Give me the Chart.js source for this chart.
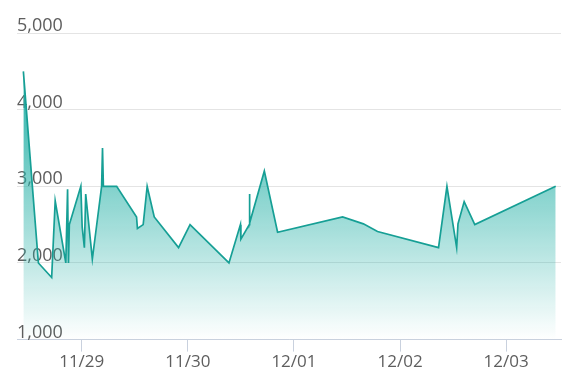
<!DOCTYPE html>
<html>
<head>
<meta charset="utf-8">
<script src="https://cdn.jsdelivr.net/npm/chart.js@4/dist/chart.umd.min.js"></script>
<style>
  html, body { margin: 0; padding: 0; background: #fff; }
  #wrap { width: 578px; height: 389px; position: relative; }
</style>
</head>
<body>
<div id="wrap"><canvas id="priceChart"></canvas></div>
<script>
// hours counted from 11/28 00:00
const hours = [10.8, 14.2, 17.2, 18.0, 20.4, 20.8, 21.0, 21.2, 23.8, 24.1, 24.6, 24.9, 26.4,
  28.5, 28.7, 28.9, 31.9, 36.4, 36.6, 37.9, 38.8, 40.4, 45.9, 48.5, 57.3, 59.9, 60.0,
  61.9, 61.95, 62.0, 65.3, 68.3, 83.0, 87.7, 90.9, 104.7, 106.6, 108.8, 109.1, 110.5,
  112.9, 131.2];
const prices = [4500, 2000, 1810, 2810, 2000, 2960, 2000, 2500, 3000, 2470, 2200, 2900, 2050,
  3000, 3500, 3000, 3000, 2600, 2450, 2500, 3000, 2600, 2200, 2500, 2000, 2500, 2310,
  2500, 2900, 2520, 3200, 2400, 2600, 2510, 2410, 2200, 3000, 2200, 2510, 2800,
  2500, 3000];
const dayLabels = ['11/28', '11/29', '11/30', '12/01', '12/02', '12/03'];
const xRange = [9.36, 132.4];
const yRange = [1000, 5000];

const points = hours.map((h, i) => ({ x: h, y: prices[i] }));

// グラデーション塗り
function areaFill(context) {
  const chart = context.chart;
  const { chartArea, scales } = chart;
  if (!chartArea) return 'rgba(40,180,170,0.5)';
  const topY = scales.y.getPixelForValue(Math.max(...prices));
  const g = chart.ctx.createLinearGradient(0, topY, 0, chartArea.bottom);
  g.addColorStop(0, 'rgba(36,176,166,1)');
  g.addColorStop(1, 'rgba(36,176,166,0)');
  return g;
}

new Chart(document.getElementById('priceChart').getContext('2d'), {
  type: 'line',
  data: {
    datasets: [{
      data: points,
      borderColor: '#169f95',
      borderWidth: 1.7,
      backgroundColor: areaFill,
      fill: 'start',
      tension: 0,
      pointRadius: 0
    }]
  },
  options: {
    responsive: true,
    maintainAspectRatio: false,
    animation: false,
    layout: { padding: { left: 17, right: 17, top: 33, bottom: 17 } },
    plugins: { legend: { display: false }, tooltip: { enabled: false } },
    scales: {
      x: {
        type: 'linear',
        min: xRange[0],
        max: xRange[1],
        border: { display: true, color: '#c9d1de', width: 1 },
        grid: { drawOnChartArea: false, drawTicks: true, tickLength: 12, color: '#c9d1de' },
        ticks: {
          stepSize: 24,
          includeBounds: false,
          autoSkip: false,
          maxRotation: 0,
          padding: 0,
          color: '#5e5e5e',
          font: { family: 'Open Sans', size: 17 },
          callback: (v) => dayLabels[Math.round(v / 24)]
        }
      },
      y: {
        min: yRange[0],
        max: yRange[1],
        border: { display: false },
        grid: { color: '#e4e4e4', drawTicks: false },
        ticks: {
          stepSize: 1000,
          mirror: true,
          padding: 0,
          labelOffset: -7,
          color: '#5e5e5e',
          font: { family: 'Open Sans', size: 18 },
          callback: (v) => v.toLocaleString('en-US')
        }
      }
    }
  }
});
</script>
</body>
</html>
